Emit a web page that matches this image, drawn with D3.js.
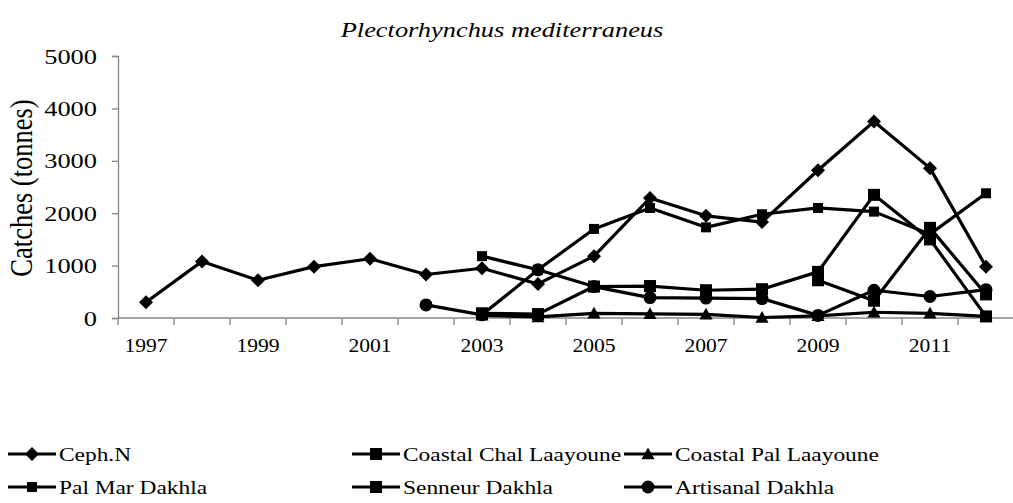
<!DOCTYPE html>
<html>
<head>
<meta charset="utf-8">
<script src="https://cdn.jsdelivr.net/npm/d3@7"></script>
<style>
  html, body { margin: 0; padding: 0; background: #fff; }
  svg { display: block; }
  text { font-family: "Liberation Serif", "Times New Roman", serif; fill: #000; }
</style>
</head>
<body>
<svg id="chart" width="1013" height="503"></svg>
<script>
// Catch series by fleet segment, tonnes per year (null = no record)
const years = [1997, 1998, 1999, 2000, 2001, 2002, 2003, 2004, 2005, 2006, 2007, 2008, 2009, 2010, 2011, 2012];
const yearLabels = ["1997", "1999", "2001", "2003", "2005", "2007", "2009", "2011"];
const yTicks = [0, 1000, 2000, 3000, 4000, 5000];

const cephN       = [300, 1080, 720, 980, 1130, 830, 950, 650, 1180, 2290, 1950, 1830, 2820, 3750, 2860, 980];
const coastalChal = [null, null, null, null, null, null, null, null, null, null, null, null, 720, 330, 1720, 450];
const coastalPal  = [null, null, null, null, null, null, 50, 20, 90, 80, 70, 10, 40, 110, 90, 30];
const palMar      = [null, null, null, null, null, null, 1180, 920, 1700, 2100, 1730, 1980, 2100, 2030, 1600, 2380];
const senneur     = [null, null, null, null, null, null, 90, 75, 600, 610, 530, 550, 880, 2350, 1500, 30];
const artisanal   = [null, null, null, null, null, 250, 60, 920, 600, 390, 380, 370, 50, 530, 410, 540];

const seriesNames = ["Ceph.N", "Coastal Chal Laayoune", "Coastal Pal Laayoune", "Pal Mar Dakhla", "Senneur Dakhla", "Artisanal Dakhla"];
const seriesValues = [cephN, coastalChal, coastalPal, palMar, senneur, artisanal];
const seriesMarkers = ["diamond", "square", "triangle", "smallSquare", "square", "circle"];

const svg = d3.select("#chart");
const plot = { left: 118, right: 1014, top: 56, bottom: 318 };
const sx = 1.2; // horizontal text stretch

const x = d3.scaleBand().domain(years).range([plot.left, plot.right]).padding(0);
const cx = d => x(d) + x.bandwidth() / 2;
const y = d3.scaleLinear().domain([0, 5000]).range([plot.bottom, plot.top]);

function stretchedText(g, tx, ty, str, size, anchor) {
  return g.append("text")
    .attr("transform", `translate(${tx},${ty}) scale(${sx},1)`)
    .attr("text-anchor", anchor)
    .style("font-size", size + "px")
    .text(str);
}

// title
stretchedText(svg, 502, 37, "Plectorhynchus mediterraneus", 22, "middle").style("font-style", "italic");

// y axis
const yAxis = svg.append("g")
  .attr("transform", `translate(${plot.left},0)`)
  .call(d3.axisLeft(y).tickValues(yTicks).tickSize(6).tickFormat(""));
yAxis.selectAll("path, line").attr("stroke", "#868686").attr("stroke-width", 1.3);
yTicks.forEach(v => stretchedText(svg, 97, y(v) + 7.5, String(v), 22, "end"));

// y axis title
svg.append("text")
  .attr("transform", `translate(32,188) scale(${sx},1) rotate(-90)`)
  .attr("text-anchor", "middle")
  .style("font-size", "26.5px")
  .text("Catches (tonnes)");

// x axis: ticks on category boundaries
const xb = svg.append("g");
xb.append("line")
  .attr("x1", plot.left).attr("x2", plot.right)
  .attr("y1", plot.bottom).attr("y2", plot.bottom)
  .attr("stroke", "#868686").attr("stroke-width", 1.3);
const boundaries = years.map(d => x(d)).concat([x(years[years.length - 1]) + x.bandwidth()]);
xb.selectAll("line.tick")
  .data(boundaries)
  .join("line")
  .attr("class", "tick")
  .attr("x1", d => d).attr("x2", d => d)
  .attr("y1", plot.bottom).attr("y2", plot.bottom + 7)
  .attr("stroke", "#868686").attr("stroke-width", 1.3);
yearLabels.forEach(lbl => stretchedText(svg, cx(+lbl), 352, lbl, 18, "middle"));

// marker shapes
function drawMarker(g, kind, px, py) {
  if (kind === "diamond") {
    const r = 7;
    g.append("path").attr("d", `M${px},${py - r}L${px + r},${py}L${px},${py + r}L${px - r},${py}Z`).attr("fill", "#000");
  } else if (kind === "square" || kind === "smallSquare") {
    const h = kind === "square" ? 6 : 5;
    g.append("rect").attr("x", px - h).attr("y", py - h).attr("width", 2 * h).attr("height", 2 * h).attr("fill", "#000");
  } else if (kind === "triangle") {
    const h = 6.5;
    g.append("path").attr("d", `M${px},${py - h}L${px + h},${py + h * 0.8}L${px - h},${py + h * 0.8}Z`).attr("fill", "#000");
  } else if (kind === "circle") {
    g.append("circle").attr("cx", px).attr("cy", py).attr("r", 6.5).attr("fill", "#000");
  }
}

const line = d3.line()
  .defined(d => d.v !== null)
  .x(d => cx(d.year))
  .y(d => y(d.v));

const seriesG = svg.append("g");
seriesValues.forEach((vals, i) => {
  const pts = years.map((yr, j) => ({ year: yr, v: vals[j] }));
  const g = seriesG.append("g");
  g.append("path")
    .datum(pts)
    .attr("d", line)
    .attr("fill", "none")
    .attr("stroke", "#000")
    .attr("stroke-width", 3.2)
    .attr("stroke-linejoin", "round");
  pts.filter(p => p.v !== null).forEach(p => drawMarker(g, seriesMarkers[i], cx(p.year), y(p.v)));
});

// legend: two rows of three
const legendCols = [8, 352, 624];
const legendRows = [454, 487];
const legend = svg.append("g");
seriesNames.forEach((name, i) => {
  const lx = legendCols[i % 3], ly = legendRows[Math.floor(i / 3)];
  const g = legend.append("g");
  g.append("line").attr("x1", lx).attr("x2", lx + 48).attr("y1", ly).attr("y2", ly)
    .attr("stroke", "#000").attr("stroke-width", 3.2);
  drawMarker(g, seriesMarkers[i], lx + 24, ly);
  stretchedText(g, lx + 51, ly + 7, name, 19.5, "start");
});
</script>
</body>
</html>
